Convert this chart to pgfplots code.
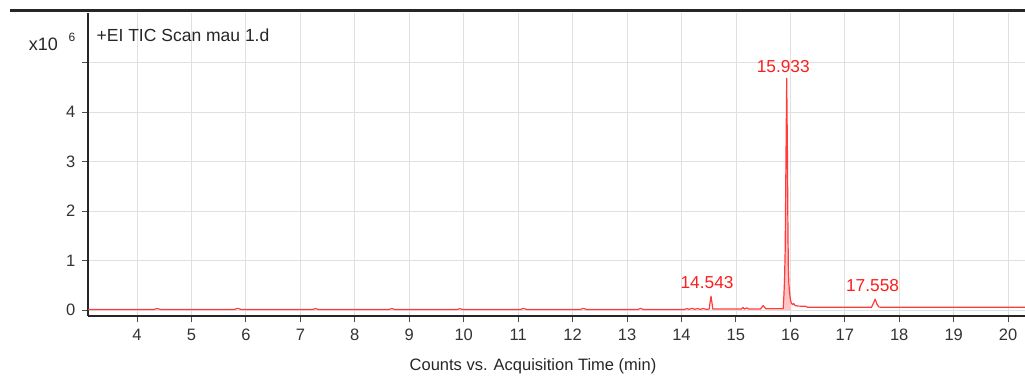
\documentclass[border=0pt]{standalone}
\usepackage{fontspec}
\setmainfont{Liberation Sans}
\usepackage{pgfplots}
\pgfplotsset{compat=1.18}
\definecolor{peakred}{RGB}{255,60,60}
\definecolor{labred}{RGB}{250,30,30}
\begin{document}
\fontsize{16.5}{19}\selectfont
\begin{tikzpicture}
\path[use as bounding box] (0pt,0pt) rectangle (1025pt,375pt);
\draw[line width=3pt, black!85] (10pt,364pt) -- (1025pt,364pt);
\begin{axis}[
  at={(88pt,59pt)}, anchor=south west,
  scale only axis, width=937pt, height=303pt,
  xmin=3.1, xmax=20.31, ymin=-0.12, ymax=6.0,
  axis x line*=bottom, axis y line*=left,
  axis line style={line width=1.8pt, black!85},
  xtick={4,5,...,20}, ytick={0,1,2,3,4,5},
  yticklabels={0,1,2,3,4,{}},
  tick align=outside, major tick length=6pt,
  tick style={line width=0.9pt, black!70},
  grid=major, grid style={line width=0.8pt, black!12},
  /pgf/number format/assume math mode=true,
  ticklabel style={font=\fontsize{16.5}{19}\selectfont, text=black!80},
  xticklabel style={yshift=-1pt},
  yticklabel style={xshift=-1pt},
]
\addplot[draw=none, fill=peakred!30] coordinates {
(15.868,0.03)(15.882,0.3)(15.893,0.6)(15.905,1.2)(15.917,2.7)(15.933,4.68)(15.946,3.2)(15.956,1.6)(15.964,0.8)(15.972,0.55)(15.985,0.36)(16.0,0.22)(16.015,0.15)(16.015,0.0)(15.868,0.0)
} --cycle;
\addplot[peakred, line width=1.2pt, line join=round] coordinates {
(3.1,0.01)(4.30,0.01)(4.37,0.03)(4.44,0.01)(5.78,0.01)(5.85,0.035)(5.92,0.01)
(7.22,0.01)(7.28,0.03)(7.34,0.01)(8.62,0.01)(8.68,0.03)(8.74,0.01)
(9.88,0.01)(9.93,0.03)(9.98,0.01)(11.04,0.01)(11.1,0.035)(11.16,0.01)
(12.14,0.01)(12.2,0.035)(12.26,0.01)(13.2,0.01)(13.25,0.035)(13.3,0.01)
(14.05,0.01)(14.1,0.03)(14.14,0.015)(14.2,0.035)(14.24,0.015)(14.3,0.03)(14.34,0.015)(14.4,0.03)(14.45,0.015)
(14.51,0.02)(14.525,0.15)(14.543,0.28)(14.56,0.15)(14.575,0.02)
(15.1,0.02)(15.13,0.05)(15.16,0.02)(15.2,0.045)(15.23,0.02)
(15.45,0.02)(15.5,0.09)(15.55,0.025)(15.85,0.025)
(15.868,0.03)(15.882,0.3)(15.893,0.6)(15.905,1.2)(15.917,2.7)(15.933,4.68)(15.946,3.2)(15.956,1.6)(15.964,0.8)(15.972,0.55)(15.985,0.36)(16.0,0.22)(16.015,0.15)(16.04,0.11)(16.06,0.13)(16.09,0.09)(16.15,0.08)(16.28,0.075)(16.32,0.055)
(17.49,0.055)(17.52,0.12)(17.558,0.22)(17.59,0.12)(17.63,0.06)(17.7,0.055)(20.31,0.055)
};
\node[text=labred, font=\fontsize{17.3}{20}\selectfont] at (axis cs:15.87,4.92) {15.933};
\node[text=labred, font=\fontsize{17.3}{20}\selectfont] at (axis cs:14.47,0.56) {14.543};
\node[text=labred, font=\fontsize{17.3}{20}\selectfont] at (axis cs:17.51,0.50) {17.558};
\end{axis}
\node[anchor=west, text=black!85, font=\fontsize{17.5}{20}\selectfont] at (91pt,340pt) {+EI TIC Scan mau 1.d};
\node[text=black!85, font=\fontsize{18}{20}\selectfont] at (43.5pt,331pt) {x10};
\node[text=black!85, font=\fontsize{12}{14}\selectfont] at (72pt,338pt) {6};
\node[text=black!85] at (533pt,9pt) {Counts vs. Acquisition Time (min)};
\end{tikzpicture}
\end{document}
